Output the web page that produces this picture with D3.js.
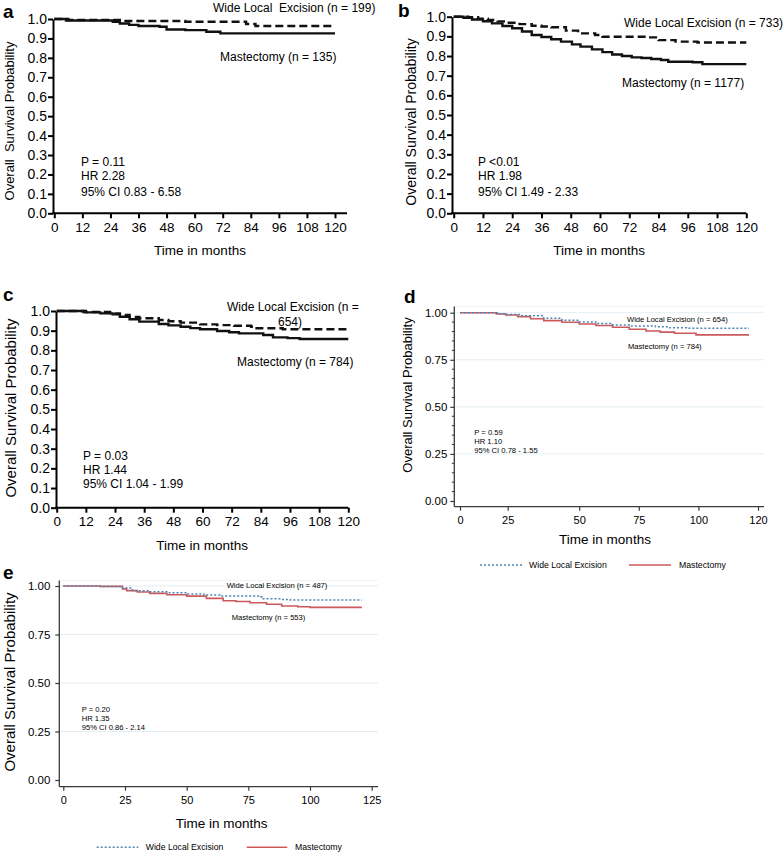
<!DOCTYPE html>
<html><head><meta charset="utf-8">
<script src="https://cdn.jsdelivr.net/npm/d3@7"></script>
<style>
body{margin:0;background:#fff}
svg{display:block}
text{font-family:"Liberation Sans",Arial,Helvetica,sans-serif;fill:#000}
</style>
</head><body>
<svg id="chart" width="784" height="856"></svg>
<script>
// ---------- DATA ----------
// Panel a
const aWleTime  = [0, 6, 28, 56, 82, 86, 120];
const aWleSurv  = [1, 0.995, 0.99, 0.986, 0.974, 0.964, 0.964];
const aMastTime = [0, 5, 25, 28, 32, 36, 45, 48, 56, 65, 71, 120];
const aMastSurv = [1, 0.992, 0.986, 0.977, 0.97, 0.964, 0.96, 0.946, 0.943, 0.934, 0.926, 0.926];
// Panel b
const bWleTime  = [0, 6, 10, 14, 18, 22, 27, 32, 36, 40, 46, 51, 58, 61, 79, 84, 91, 100, 120];
const bWleSurv  = [1, 0.997, 0.99, 0.983, 0.976, 0.969, 0.962, 0.954, 0.95, 0.946, 0.929, 0.915, 0.907, 0.898, 0.895, 0.881, 0.873, 0.869, 0.869];
const bMastTime = [0, 4, 7.5, 12, 15.7, 20, 24, 28, 32, 36, 40, 44, 48.5, 52, 56.7, 61, 65, 69, 73, 77, 81, 85, 88, 98, 102, 120];
const bMastSurv = [1, 0.995, 0.986, 0.977, 0.966, 0.953, 0.941, 0.925, 0.907, 0.897, 0.885, 0.873, 0.859, 0.848, 0.834, 0.82, 0.808, 0.8, 0.793, 0.79, 0.785, 0.78, 0.771, 0.768, 0.759, 0.759];
// Panel c
const cWleTime  = [0, 11, 22, 26, 30, 34, 42, 46, 51, 59, 66, 73, 80, 81, 93, 120];
const cWleSurv  = [1, 0.995, 0.988, 0.98, 0.97, 0.963, 0.954, 0.948, 0.941, 0.932, 0.928, 0.925, 0.92, 0.912, 0.907, 0.907];
const cMastTime = [0, 12, 18, 23, 26, 30, 34, 42, 46, 51, 55, 59, 66, 71, 75, 85, 89, 95, 100, 120];
const cMastSurv = [1, 0.993, 0.988, 0.983, 0.971, 0.958, 0.946, 0.934, 0.927, 0.92, 0.913, 0.907, 0.898, 0.892, 0.886, 0.878, 0.866, 0.862, 0.858, 0.858];
// Panel d
const dWleTime  = [0, 20, 24, 30, 37.6, 44, 50, 57, 64, 71, 82, 88, 95, 117];
const dWleSurv  = [1, 0.995, 0.99, 0.984, 0.97, 0.96, 0.951, 0.943, 0.935, 0.93, 0.925, 0.92, 0.917, 0.917];
const dMastTime = [0, 19, 24, 28.5, 33, 37.6, 44, 50, 57, 64, 71, 78, 84, 90, 99, 117];
const dMastSurv = [1, 0.993, 0.988, 0.979, 0.968, 0.958, 0.949, 0.94, 0.932, 0.923, 0.912, 0.903, 0.897, 0.891, 0.882, 0.882];
// Panel e
const eWleTime  = [0, 15, 24, 28, 35, 43, 50, 57, 63.5, 80, 81, 88.5, 92, 121];
const eWleSurv  = [1, 0.998, 0.99, 0.976, 0.97, 0.965, 0.959, 0.953, 0.948, 0.945, 0.934, 0.931, 0.928, 0.928];
const eMastTime = [0, 15, 24, 25.7, 30, 35, 42, 50, 58, 64.8, 70, 75.7, 82.4, 88.5, 95, 100, 121];
const eMastSurv = [1, 0.998, 0.985, 0.976, 0.969, 0.962, 0.955, 0.948, 0.936, 0.924, 0.92, 0.914, 0.906, 0.897, 0.893, 0.89, 0.89];

// Tick labels
const ticksMonths12 = [0, 12, 24, 36, 48, 60, 72, 84, 96, 108, 120];
const ticksProb10   = [0, 0.1, 0.2, 0.3, 0.4, 0.5, 0.6, 0.7, 0.8, 0.9, 1.0];
const ticksD_x      = [0, 25, 50, 75, 100, 120];
const ticksE_x      = [0, 25, 50, 75, 100, 125];
const ticksProb25   = [0, 0.25, 0.5, 0.75, 1.0];
const minorProb     = [0.05,0.1,0.15,0.2,0.3,0.35,0.4,0.45,0.55,0.6,0.65,0.7,0.8,0.85,0.9,0.95];

// Text
const legendNames = ["Wide Local Excision", "Mastectomy"];

// ---------- DRAWING ----------
const svg = d3.select("#chart");
svg.append("rect").attr("width",784).attr("height",856).attr("fill","#fff");

const zip = (t, s) => t.map((v, i) => [v, s[i]]);

function txt(g, x, y, s, size, opts = {}) {
  const t = g.append("text").attr("x", x).attr("y", y)
    .attr("font-size", size + "px")
    .attr("dominant-baseline", "central")
    .attr("text-anchor", opts.anchor || "start")
    .style("white-space", "pre")
    .text(s);
  if (opts.bold) t.attr("font-weight", "bold");
  if (opts.rotate) t.attr("transform", `rotate(-90,${x},${y})`).attr("text-anchor", "middle");
  return t;
}

// Prism-style panels (a, b, c)
function prismPanel(p) {
  const g = svg.append("g");
  const x = d3.scaleLinear().domain([0, 120]).range([p.x0, p.x1]);
  const y = d3.scaleLinear().domain([0, 1]).range([p.yB, p.yT]);

  const ya = g.append("g").attr("transform", `translate(${p.axisX},0)`)
    .call(d3.axisLeft(y).tickValues(ticksProb10).tickFormat(d3.format(".1f")).tickSize(5).tickSizeOuter(0).tickPadding(1));
  ya.select(".domain").attr("stroke", "#000").attr("stroke-width", 2);
  ya.selectAll(".tick line").attr("stroke", "#000").attr("stroke-width", 2);
  ya.selectAll(".tick text").attr("font-size", "14px").attr("font-family", "Liberation Sans, Arial").attr("fill", "#000");

  const xa = g.append("g").attr("transform", `translate(0,${p.yB})`)
    .call(d3.axisBottom(x).tickValues(ticksMonths12).tickSize(5).tickSizeOuter(0).tickPadding(4));
  xa.select(".domain").remove();
  xa.selectAll(".tick line").attr("stroke", "#000").attr("stroke-width", 2);
  xa.selectAll(".tick text").attr("font-size", "13.5px").attr("font-family", "Liberation Sans, Arial").attr("fill", "#000");
  g.append("line").attr("x1", p.axisX - 1).attr("x2", p.axisEnd).attr("y1", p.yB).attr("y2", p.yB)
    .attr("stroke", "#000").attr("stroke-width", 2);

  const line = d3.line().x(d => x(d[0])).y(d => y(d[1])).curve(d3.curveStepAfter);
  g.append("path").datum(p.wle).attr("d", line).attr("fill", "none")
    .attr("stroke", "#111").attr("stroke-width", 2.4).attr("stroke-dasharray", "8,4");
  g.append("path").datum(p.mast).attr("d", line).attr("fill", "none")
    .attr("stroke", "#111").attr("stroke-width", 2.4);

  txt(g, p.letter[0], p.letter[1], p.letter[2], 19, { bold: true });
  txt(g, p.ylab[0], p.ylab[1], p.ylab[2], p.ylab[3], { rotate: true });
  txt(g, (p.axisX + p.axisEnd) / 2, p.xlabY, "Time in months", 13.5, { anchor: "middle" });
  p.notes.forEach(n => txt(g, n[0], n[1], n[2], 12, { anchor: n[3] || "start" }));
}

// Stata-style panels (d, e)
function stataPanel(p) {
  const g = svg.append("g");
  const x = p.xScale;
  const y = d3.scaleLinear().domain([0, 1]).range([p.yB, p.yT]);
  const axisCol = "#3a3a3a";

  g.selectAll("line.grid").data(ticksProb25.filter(v => v > 0)).join("line")
    .attr("x1", p.axisX + 1).attr("x2", p.axisEnd).attr("y1", d => y(d)).attr("y2", d => y(d))
    .attr("stroke", "#e3eef3").attr("stroke-width", 1);
  g.append("line").attr("x1", p.axisX + 1).attr("x2", p.axisEnd).attr("y1", p.topY).attr("y2", p.topY)
    .attr("stroke", "#eef4f7").attr("stroke-width", 1);

  if (p.minor) {
    g.selectAll("line.minor").data(minorProb).join("line")
      .attr("x1", p.axisX - 2.5).attr("x2", p.axisX).attr("y1", d => y(d)).attr("y2", d => y(d))
      .attr("stroke", axisCol).attr("stroke-width", 1);
  }

  const ya = g.append("g").attr("transform", `translate(${p.axisX},0)`)
    .call(d3.axisLeft(y).tickValues(ticksProb25).tickFormat(d3.format(".2f")).tickSize(4).tickSizeOuter(0).tickPadding(p.yPad));
  ya.select(".domain").remove();
  ya.selectAll(".tick line").attr("stroke", axisCol).attr("stroke-width", 1.2);
  ya.selectAll(".tick text").attr("font-size", "11.5px").attr("font-family", "Liberation Sans, Arial").attr("fill", "#000");
  g.append("line").attr("x1", p.axisX).attr("x2", p.axisX).attr("y1", p.topY).attr("y2", p.axisY)
    .attr("stroke", axisCol).attr("stroke-width", 1.3);

  const xa = g.append("g").attr("transform", `translate(0,${p.axisY})`)
    .call(d3.axisBottom(x).tickValues(p.xTicks).tickSize(4).tickSizeOuter(0).tickPadding(6));
  xa.select(".domain").remove();
  xa.selectAll(".tick line").attr("stroke", axisCol).attr("stroke-width", 1.2);
  xa.selectAll(".tick text").attr("font-size", "11px").attr("font-family", "Liberation Sans, Arial").attr("fill", "#000");
  g.append("line").attr("x1", p.axisX).attr("x2", p.axisEnd).attr("y1", p.axisY).attr("y2", p.axisY)
    .attr("stroke", axisCol).attr("stroke-width", 1.3);

  const line = d3.line().x(d => x(d[0])).y(d => y(d[1])).curve(d3.curveStepAfter);
  g.append("path").datum(p.mast).attr("d", line).attr("fill", "none")
    .attr("stroke", "#cc5a5c").attr("stroke-width", 1.6);
  g.append("path").datum(p.wle).attr("d", line).attr("fill", "none")
    .attr("stroke", "#4f86b2").attr("stroke-width", 1.5).attr("stroke-dasharray", "2,2");

  txt(g, p.letter[0], p.letter[1], p.letter[2], 19, { bold: true });
  txt(g, p.ylab[0], p.ylab[1], p.ylab[2], p.ylab[3], { rotate: true });
  txt(g, p.xlab[0], p.xlab[1], "Time in months", 13.5, { anchor: "middle" });
  p.notes.forEach(n => txt(g, n[0], n[1], n[2], 7.6));

  const L = p.legend;
  g.append("line").attr("x1", L.b0).attr("x2", L.b1).attr("y1", L.y).attr("y2", L.y)
    .attr("stroke", "#4f86b2").attr("stroke-width", 1.5).attr("stroke-dasharray", "2,2");
  txt(g, L.bt, L.y, legendNames[0], 8.7);
  g.append("line").attr("x1", L.r0).attr("x2", L.r1).attr("y1", L.y).attr("y2", L.y)
    .attr("stroke", "#cc5a5c").attr("stroke-width", 1.6);
  txt(g, L.rt, L.y, legendNames[1], 8.7);
}

// ----- panel a -----
prismPanel({
  x0: 54.3, x1: 335, yT: 19, yB: 213.3, axisX: 53, axisEnd: 347,
  wle: zip(aWleTime, aWleSurv), mast: zip(aMastTime, aMastSurv),
  letter: [3, 11, "a"], ylab: [9, 121, "Overall  Survival Probability", 13], xlabY: 250,
  notes: [[213, 8, "Wide Local  Excision (n = 199)"], [220, 57, "Mastectomy (n = 135)"],
          [81, 162, "P = 0.11"], [81, 176, "HR 2.28"], [81, 191.6, "95% CI 0.83 - 6.58"]]
});
// ----- panel b -----
prismPanel({
  x0: 453.7, x1: 746.3, yT: 16.7, yB: 213.3, axisX: 452, axisEnd: 746.3,
  wle: zip(bWleTime, bWleSurv), mast: zip(bMastTime, bMastSurv),
  letter: [398, 10, "b"], ylab: [411, 122, "Overall Survival Probability", 14], xlabY: 250,
  notes: [[624, 23.3, "Wide Local Excision (n = 733)"], [622, 83.3, "Mastectomy (n = 1177)"],
          [478, 162, "P <0.01"], [478, 176, "HR 1.98"], [478, 191.6, "95% CI 1.49 - 2.33"]]
});
// ----- panel c -----
prismPanel({
  x0: 56.7, x1: 348.3, yT: 311, yB: 507.7, axisX: 56, axisEnd: 348.3,
  wle: zip(cWleTime, cWleSurv), mast: zip(cMastTime, cMastSurv),
  letter: [3, 294, "c"], ylab: [10.5, 408, "Overall Survival Probability", 15], xlabY: 545,
  notes: [[227, 306.7, "Wide Local Excision (n ="], [290, 321.7, "654)", "middle"], [237, 361.7, "Mastectomy (n = 784)"],
          [83, 456, "P = 0.03"], [83, 470, "HR 1.44"], [83, 484, "95% CI 1.04 - 1.99"]]
});
// ----- panel d -----
const dX0 = 460, dX1 = 758;
const dFrac = [0, 0.16, 0.4, 0.6, 0.8, 1];
stataPanel({
  xScale: d3.scaleLinear().domain(ticksD_x).range(dFrac.map(f => dX0 + f * (dX1 - dX0))),
  xTicks: ticksD_x, yT: 312.7, yB: 501, axisX: 454.3, axisY: 506.7, axisEnd: 764, topY: 306.5,
  yPad: 3, minor: true,
  wle: zip(dWleTime, dWleSurv), mast: zip(dMastTime, dMastSurv),
  letter: [404, 296.5, "d"], ylab: [407, 395, "Overall Survival Probability", 13], xlab: [605, 539.3],
  notes: [[627, 319, "Wide Local Excision (n = 654)"], [628, 346.7, "Mastectomy (n = 784)"],
          [474.3, 432, "P = 0.59"], [474.3, 441, "HR 1.10"], [474.3, 450, "95% CI 0.78 - 1.55"]],
  legend: { y: 565, b0: 480, b1: 522, bt: 529, r0: 629, r1: 671, rt: 679 }
});
// ----- panel e -----
stataPanel({
  xScale: d3.scaleLinear().domain([0, 125]).range([63.3, 371.7]),
  xTicks: ticksE_x, yT: 586, yB: 780, axisX: 59.3, axisY: 786.7, axisEnd: 378, topY: 580.5,
  yPad: 5, minor: false,
  wle: zip(eWleTime, eWleSurv), mast: zip(eMastTime, eMastSurv),
  letter: [3, 572, "e"], ylab: [9.7, 682, "Overall Survival Probability", 15], xlab: [221.7, 823.3],
  notes: [[226.7, 585, "Wide Local Excision (n = 487)"], [231.7, 617.7, "Mastectomy (n = 553)"],
          [81.7, 709, "P = 0.20"], [81.7, 718.3, "HR 1.35"], [81.7, 727.3, "95% CI 0.86 - 2.14"]],
  legend: { y: 847.3, b0: 96.7, b1: 138.3, bt: 145.7, r0: 246.7, r1: 287.3, rt: 295 }
});
</script>
</body></html>
